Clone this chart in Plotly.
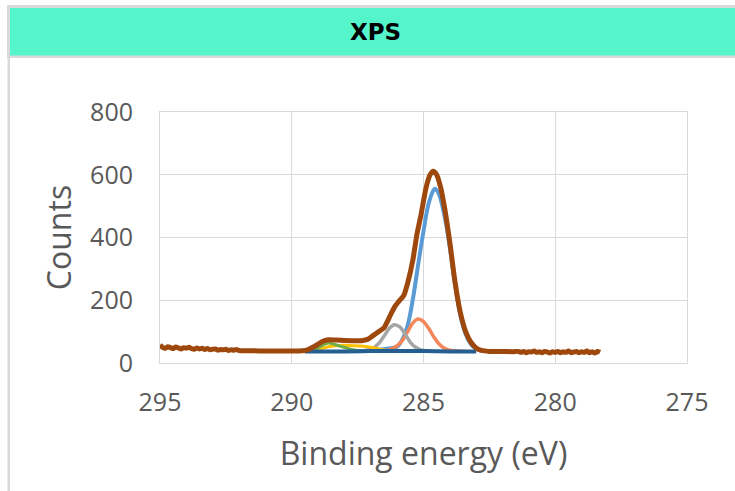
import plotly.graph_objects as go

# ---- data ----
env_E = [295.0, 294.9, 294.8, 294.7, 294.6, 294.5, 294.4, 294.3, 294.2, 294.1, 294.0, 293.9, 293.8, 293.7,
         293.6, 293.5, 293.4, 293.3, 293.2, 293.1, 293.0, 292.9, 292.8, 292.7, 292.6, 292.5, 292.4, 292.3,
         292.2, 292.1, 292.0, 291.8, 291.5, 291.0, 290.5, 290.0, 289.6, 289.4, 289.2, 289.0, 288.8, 288.6,
         288.3, 288.0, 287.6, 287.3, 287.1, 286.9, 286.7, 286.5, 286.3, 286.1, 285.9, 285.75, 285.6, 285.4,
         285.25, 285.1, 284.9, 284.75, 284.63, 284.5, 284.35, 284.2, 284.0, 283.8, 283.6, 283.4, 283.2,
         283.0, 282.8, 282.5, 282.0, 281.6, 281.4, 281.3, 281.2, 281.1, 281.0, 280.9, 280.8, 280.7, 280.6,
         280.5, 280.4, 280.3, 280.2, 280.1, 280.0, 279.9, 279.8, 279.7, 279.6, 279.5, 279.4, 279.3, 279.2,
         279.1, 279.0, 278.9, 278.8, 278.7, 278.6, 278.5, 278.4, 278.3]
env_counts = [57, 50, 47, 52, 49, 46, 51, 48, 45, 49, 47, 50, 46, 44,
              48, 45, 47, 43, 46, 42, 44, 45, 41, 43, 42, 44, 40, 42,
              41, 43, 40, 39, 39, 38, 38, 38, 39, 42, 50, 60, 70, 74,
              73, 72, 71, 72, 76, 88, 100, 112, 145, 178, 200, 215, 255, 330,
              410, 470, 560, 600, 611, 600, 560, 495, 384, 256, 160, 100, 66,
              48, 40, 37, 37, 36, 37, 34, 37, 33, 36, 35, 38, 34, 36,
              33, 37, 35, 32, 36, 34, 37, 33, 36, 34, 38, 33, 35, 37,
              33, 36, 34, 38, 33, 36, 32, 37, 34]

c1_E = [287.5, 287.0, 286.6, 286.3, 286.0, 285.8, 285.6, 285.4, 285.2, 285.0, 284.8, 284.6, 284.55,
        284.4, 284.2, 284.0, 283.8, 283.6, 283.4, 283.2, 283.0, 282.8]
c1_counts = [38, 40, 43, 46, 52, 75, 120, 205, 315, 420, 510, 553, 555,
             535, 468, 368, 248, 152, 92, 60, 45, 39]

c2_E = [286.6, 286.3, 286.0, 285.8, 285.6, 285.4, 285.2, 285.0, 284.8, 284.6, 284.4, 284.2, 284.0, 283.7, 283.4]
c2_counts = [38, 42, 55, 72, 100, 128, 140, 132, 110, 82, 60, 47, 41, 38, 37]

c3_E = [287.2, 286.9, 286.7, 286.5, 286.3, 286.1, 285.9, 285.7, 285.5, 285.3, 285.1, 284.9]
c3_counts = [40, 48, 62, 85, 110, 122, 115, 92, 66, 50, 42, 39]

c4_E = [289.2, 288.9, 288.6, 288.2, 287.8, 287.4, 287.0, 286.7, 286.4, 286.1]
c4_counts = [38, 45, 52, 56, 56, 54, 50, 45, 40, 38]

c5_E = [289.4, 289.1, 288.8, 288.6, 288.4, 288.1, 287.8, 287.5, 287.2]
c5_counts = [38, 45, 58, 64, 60, 52, 45, 40, 38]

bg_E = [289.5, 288.0, 287.0, 286.0, 285.0, 284.0, 283.0]
bg_counts = [37, 37, 38, 38, 38, 37, 37]

x_ticks = [295, 290, 285, 280, 275]
y_ticks = [0, 200, 400, 600, 800]

# ---- figure ----
W, H = 735, 491
L, R, T, B = 160, 687, 112, 363


def px(x):
    return (x - L) / (R - L)


def py(y):
    return (B - y) / (B - T)


fig = go.Figure()

comps = [
    (c1_E, c1_counts, "#5B9BD5", 4),
    (c2_E, c2_counts, "#F4875A", 3.5),
    (c3_E, c3_counts, "#A5A5A5", 3.5),
    (c4_E, c4_counts, "#FFC000", 3),
    (c5_E, c5_counts, "#70AD47", 3),
    (bg_E, bg_counts, "#255E91", 4),
]
for e, c, col, w in comps:
    fig.add_trace(go.Scatter(x=e, y=c, mode="lines", line=dict(color=col, width=w, shape="spline"),
                             showlegend=False, hoverinfo="skip"))

fig.add_trace(go.Scatter(x=env_E, y=env_counts, mode="lines",
                         line=dict(color="#9E480E", width=5, shape="spline", smoothing=0.6),
                         showlegend=False, hoverinfo="skip"))

shapes = [
    # outer grey frame (top + header band)
    dict(type="rect", xref="paper", yref="paper", x0=px(7), x1=px(740), y0=py(58), y1=py(5),
         fillcolor="#D9D9D9", line=dict(width=0), layer="below"),
    dict(type="rect", xref="paper", yref="paper", x0=px(10), x1=px(740), y0=py(55.5), y1=py(8),
         fillcolor="#55F5CC", line=dict(width=0), layer="below"),
    # left border
    dict(type="rect", xref="paper", yref="paper", x0=px(7.5), x1=px(10), y0=py(495), y1=py(58),
         fillcolor="#D9D9D9", line=dict(width=0), layer="below"),
]

fig.update_layout(
    width=W, height=H,
    margin=dict(l=L, r=W - R, t=T, b=H - B),
    paper_bgcolor="white", plot_bgcolor="white",
    font=dict(family="Open Sans", color="#595959"),
    shapes=shapes,
    annotations=[dict(text="<b>XPS</b>", xref="paper", yref="paper", x=px(375), y=py(32),
                      showarrow=False, font=dict(family="DejaVu Sans", size=23, color="#000000"),
                      xanchor="center", yanchor="middle")],
    xaxis=dict(range=[295, 275], tickvals=x_ticks, ticktext=[str(v) for v in x_ticks],
               showgrid=True, gridcolor="#D9D9D9", gridwidth=1, zeroline=False,
               showline=True, linecolor="#D9D9D9", mirror=True,
               tickfont=dict(size=25, color="#595959"), ticks="", ticklabelstandoff=17,
               title=dict(text="Binding energy (eV)", font=dict(size=32, color="#595959"), standoff=25)),
    yaxis=dict(range=[0, 800], tickvals=y_ticks, ticktext=[str(v) for v in y_ticks],
               showgrid=True, gridcolor="#D9D9D9", gridwidth=1, zeroline=False,
               showline=True, linecolor="#D9D9D9", mirror=True,
               tickfont=dict(size=25, color="#595959"), ticks="", ticklabelstandoff=21,
               title=dict(text="Counts", font=dict(size=32, color="#595959"), standoff=8)),
)

fig.write_html("out.html", config={"displayModeBar": False},
               post_script="document.body.style.margin='0';")
